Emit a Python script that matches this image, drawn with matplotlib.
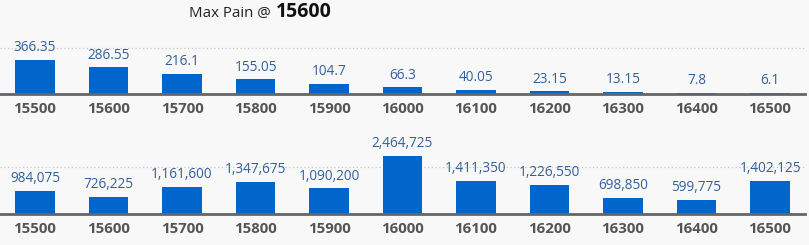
import numpy as np
import matplotlib.pyplot as plt

strikes = [15500, 15600, 15700, 15800, 15900, 16000, 16100, 16200, 16300, 16400, 16500]
pain_values = [366.35, 286.55, 216.1, 155.05, 104.7, 66.3, 40.05, 23.15, 13.15, 7.8, 6.1]
pain_labels = ['366.35', '286.55', '216.1', '155.05', '104.7', '66.3', '40.05', '23.15', '13.15', '7.8', '6.1']
oi_values = [984075, 726225, 1161600, 1347675, 1090200, 2464725, 1411350, 1226550, 698850, 599775, 1402125]
max_pain = 15600

W, H = 809, 245
bg = '#f8f8f8'
bar_color = '#0066cc'
label_color = '#33609a'
tick_color = '#555555'

plt.rcParams['font.family'] = ['Open Sans', 'DejaVu Sans']

fig = plt.figure(figsize=(W / 100, H / 100), dpi=100)
fig.patch.set_facecolor(bg)

x = np.arange(len(strikes))
step = 73.5   # pixels per category
first = 35    # pixel centre of first bar
right = 805   # axis line end


def panel(ax, values, labels, grid_val):
    ax.set_facecolor(bg)
    ax.bar(x, values, width=0.54, color=bar_color, zorder=2)
    ax.axhline(grid_val, color='#c8c8c8', lw=0.9, ls=(0, (1, 2)), zorder=1)
    for xi, v, lab in zip(x, values, labels):
        ax.annotate(lab, (xi, v), xytext=(0, 3.5), textcoords='offset points',
                    ha='center', va='bottom', fontsize=9.8, color=label_color,
                    annotation_clip=False)
    ax.set_xlim(-first / step, (right - first) / step)
    ax.set_xticks(x)
    ax.set_xticklabels([str(s) for s in strikes], fontsize=10.8, fontweight='bold',
                       color=tick_color)
    ax.tick_params(axis='x', length=0, pad=6)
    ax.set_yticks([])
    for s in ['top', 'right', 'left']:
        ax.spines[s].set_visible(False)
    ax.spines['bottom'].set_color('#666666')
    ax.spines['bottom'].set_linewidth(2)


# top panel: max pain values
ax1 = fig.add_axes([0.0, (H - 93.5) / H, right / W, 60 / H])
ax1.set_ylim(0, 500 * 60 / 45.5)
panel(ax1, pain_values, pain_labels, 500)

# bottom panel: open interest
ax2 = fig.add_axes([0.0, (H - 214) / H, right / W, 75 / H])
ax2.set_ylim(0, 2000000 * 75 / 47)
panel(ax2, oi_values, [f'{v:,}' for v in oi_values], 2000000)

fig.text(275 / W, 1 - 13 / H, 'Max Pain @ ', ha='right', va='center',
         fontsize=10.8, color='#222222')
fig.text(276 / W, 1 - 12 / H, str(max_pain), ha='left', va='center',
         fontsize=14, fontweight='bold', color='#111111')

fig.savefig('out.png', dpi=100, facecolor=bg)
